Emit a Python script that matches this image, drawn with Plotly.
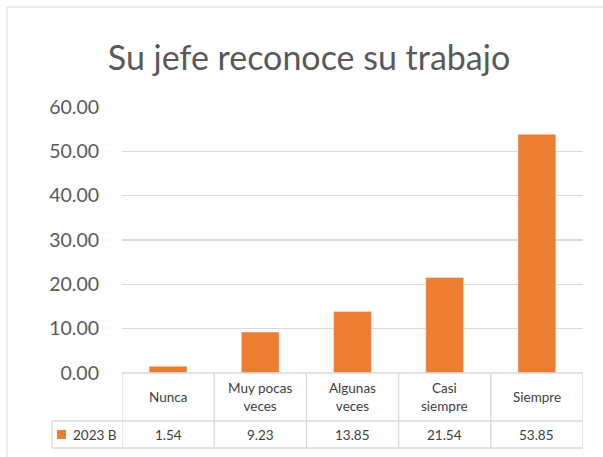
import plotly.graph_objects as go

categories = ["Nunca", "Muy pocas veces", "Algunas veces", "Casi siempre", "Siempre"]
cat_labels = ["Nunca", "Muy pocas<br>veces", "Algunas<br>veces", "Casi<br>siempre", "Siempre"]
values = [1.54, 9.23, 13.85, 21.54, 53.85]
series_name = "2023 B"
title = "Su jefe reconoce su trabajo"

W, H = 603, 457
L, R, T, B = 122, 20, 107, 84
PW, PH = W - L - R, H - T - B

def px_x(p):
    return (p - L) / PW

def px_y(p):
    return (H - B - p) / PH

orange = "#ED7D31"
grid = "#D9D9D9"
txt = "#595959"
FONT = "Lato"

fig = go.Figure()
fig.add_trace(go.Bar(x=categories, y=values, marker_color=orange, name=series_name,
                     hoverinfo="skip"))

shapes = []
annotations = []
# outer chart border
shapes.append(dict(type="rect", xref="paper", yref="paper",
                   x0=px_x(7), x1=px_x(650), y0=px_y(7), y1=px_y(500),
                   line=dict(color=grid, width=1), layer="below"))
# table horizontal lines
for yy, x0 in [(373, 122), (421, 52), (448, 52)]:
    shapes.append(dict(type="line", xref="paper", yref="paper",
                       x0=px_x(x0), x1=1, y0=px_y(yy), y1=px_y(yy),
                       line=dict(color=grid, width=1.3)))
# table vertical lines
n = len(categories)
for i in range(n + 1):
    shapes.append(dict(type="line", xref="x", yref="paper",
                       x0=i - 0.5, x1=i - 0.5, y0=px_y(373), y1=px_y(448),
                       line=dict(color=grid, width=1.3)))
shapes.append(dict(type="line", xref="paper", yref="paper",
                   x0=px_x(52), x1=px_x(52), y0=px_y(421), y1=px_y(448),
                   line=dict(color=grid, width=1.3)))
# legend key
shapes.append(dict(type="rect", xref="paper", yref="paper",
                   x0=px_x(57), x1=px_x(66), y0=px_y(430), y1=px_y(439),
                   fillcolor=orange, line=dict(width=0)))
annotations.append(dict(text=series_name, xref="paper", yref="paper",
                        x=px_x(71), y=px_y(435), xanchor="left", yanchor="middle",
                        showarrow=False, font=dict(size=13.5, color="#404040", family=FONT)))
for i, (lab, v) in enumerate(zip(cat_labels, values)):
    annotations.append(dict(text=lab, xref="x", yref="paper", x=i, y=px_y(397),
                            xanchor="center", yanchor="middle", showarrow=False,
                            font=dict(size=13.5, color="#404040", family=FONT)))
    annotations.append(dict(text=f"{v:.2f}", xref="x", yref="paper", x=i, y=px_y(435),
                            xanchor="center", yanchor="middle", showarrow=False,
                            font=dict(size=13.5, color="#404040", family=FONT)))

fig.update_layout(
    width=W, height=H, autosize=False,
    margin=dict(l=L, r=R, t=T, b=B),
    paper_bgcolor="white", plot_bgcolor="white",
    font=dict(family=FONT, color=txt),
    title=dict(text=title, x=309 / W, xref="container", xanchor="center",
               y=1 - 58 / H, yref="container", yanchor="middle",
               font=dict(size=34, color=txt, family=FONT)),
    bargap=0.59,
    showlegend=False,
    hovermode=False,
    shapes=shapes,
    annotations=annotations,
    xaxis=dict(showticklabels=False, showgrid=False, showline=False, zeroline=False,
               range=[-0.5, n - 0.5], fixedrange=True),
    yaxis=dict(range=[0, 60], dtick=10, tickformat=".2f", showgrid=True, gridcolor=grid,
               gridwidth=1.3, zeroline=False, showline=False, ticks="",
               tickfont=dict(size=19.5, color=txt, family=FONT), ticklabelstandoff=22,
               fixedrange=True),
)

fig.write_html("out.html", config={"displayModeBar": False, "staticPlot": True},
               post_script="document.body.style.margin='0';document.body.style.overflow='hidden';")
